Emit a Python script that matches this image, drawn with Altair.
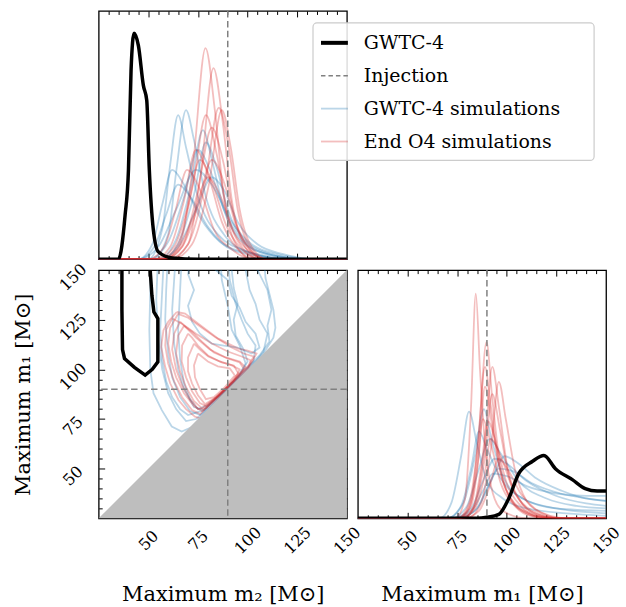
import altair as alt
import pandas as pd

LO, HI, INJ = 25, 150, 90
W = H = 249
FONT = "DejaVu Serif"
BLUE, RED = "#1f77b4", "#d62728"

label_ticks = [50, 75, 100, 125, 150]
major_ticks = [50, 75, 100, 125]
minor_ticks = [30, 35, 40, 45, 55, 60, 65, 70, 80, 85, 90, 95, 105, 110, 115,
               120, 130, 135, 140, 145]
diag = [25, 150]

legend_labels = ["GWTC-4", "Injection", "GWTC-4 simulations", "End O4 simulations"]
title_m1 = "Maximum m\u2081 [M\u2299]"
title_m2 = "Maximum m\u2082 [M\u2299]"

# ---------------- 1D: maximum m2 ----------------
m2_black_x = [25, 35, 38.3, 40, 41.3, 42.8, 45, 47.5, 49.2, 50.5, 52.5, 55, 62, 75, 150]
m2_black_h = [0, 0, 0.177, 0.36, 0.76, 0.91, 0.86, 0.70, 0.64, 0.36, 0.12, 0.03, 0.005, 0, 0]

m2_blue_x = [
    [25, 50, 57, 61, 65, 69, 75, 85, 100, 120, 150],
    [25, 52, 60, 64, 69, 73, 79, 88, 100, 120, 150],
    [25, 45, 52, 57, 62, 68, 76, 86, 100, 125, 150],
    [25, 55, 64, 71, 77.5, 82, 88, 96, 110, 130, 150],
    [25, 57, 66, 73, 79, 84, 90, 98, 112, 130, 150],
    [25, 50, 60, 68, 75, 81, 88, 97, 110, 130, 150],
    [25, 45, 55, 64, 74, 82, 92, 102, 115, 135, 150],
    [25, 55, 65, 74, 82, 88, 95, 105, 118, 135, 150],
    [25, 45, 53, 59, 65, 72, 80, 90, 105, 125, 150],
]
m2_blue_h = [
    [0, 0, 0.12, 0.38, 0.58, 0.45, 0.25, 0.10, 0.03, 0, 0],
    [0, 0, 0.10, 0.35, 0.60, 0.48, 0.25, 0.10, 0.03, 0, 0],
    [0, 0, 0.06, 0.22, 0.36, 0.30, 0.17, 0.07, 0.02, 0, 0],
    [0, 0, 0.08, 0.28, 0.52, 0.40, 0.20, 0.08, 0.02, 0, 0],
    [0, 0, 0.08, 0.26, 0.47, 0.38, 0.20, 0.08, 0.02, 0, 0],
    [0, 0, 0.07, 0.25, 0.44, 0.36, 0.20, 0.08, 0.02, 0, 0],
    [0, 0, 0.05, 0.20, 0.36, 0.30, 0.15, 0.06, 0.02, 0, 0],
    [0, 0, 0.05, 0.20, 0.33, 0.28, 0.15, 0.06, 0.02, 0, 0],
    [0, 0, 0.05, 0.18, 0.30, 0.24, 0.13, 0.05, 0.02, 0, 0],
]
m2_red_x = [
    [25, 58, 66, 72.5, 78.8, 83.5, 88, 94, 102, 150],
    [25, 61, 70, 76.5, 82.8, 87.5, 92, 98, 106, 150],
    [25, 60, 70, 78.5, 85.5, 90.5, 95, 101, 109, 150],
    [25, 56, 65, 72.5, 79, 84.5, 90, 97, 106, 150],
    [25, 62, 72, 80.5, 87, 91.5, 96, 102, 110, 150],
    [25, 58, 67, 74.5, 82, 87.5, 93, 100, 108, 150],
    [25, 53, 61, 67.5, 74, 80.5, 87, 95, 104, 150],
    [25, 54, 63, 69.5, 76, 82.5, 89, 97, 106, 150],
    [25, 58, 67, 74.5, 82, 88.5, 94, 101, 109, 150],
    [25, 50, 58, 63.5, 69.5, 76.5, 83, 92, 102, 150],
    [25, 56, 65, 72.5, 80, 86.5, 93, 101, 110, 150],
]
m2_red_h = [
    [0, 0, 0.06, 0.38, 0.85, 0.60, 0.25, 0.06, 0, 0],
    [0, 0, 0.06, 0.35, 0.77, 0.55, 0.24, 0.06, 0, 0],
    [0, 0, 0.06, 0.30, 0.61, 0.45, 0.20, 0.05, 0, 0],
    [0, 0, 0.06, 0.30, 0.58, 0.42, 0.18, 0.05, 0, 0],
    [0, 0, 0.06, 0.30, 0.60, 0.45, 0.20, 0.05, 0, 0],
    [0, 0, 0.05, 0.26, 0.53, 0.40, 0.18, 0.05, 0, 0],
    [0, 0, 0.05, 0.22, 0.44, 0.33, 0.15, 0.04, 0, 0],
    [0, 0, 0.05, 0.20, 0.40, 0.30, 0.14, 0.04, 0, 0],
    [0, 0, 0.05, 0.20, 0.40, 0.30, 0.14, 0.04, 0, 0],
    [0, 0, 0.05, 0.19, 0.36, 0.27, 0.12, 0.04, 0, 0],
    [0, 0, 0.04, 0.17, 0.33, 0.25, 0.11, 0.03, 0, 0],
]

# ---------------- 1D: maximum m1 ----------------
m1_black_x = [25, 85, 90, 96, 101, 106, 113, 118.7, 124.5, 133, 139.5, 145.5, 150]
m1_black_h = [0, 0, 0.004, 0.016, 0.08, 0.18, 0.23, 0.253, 0.20, 0.156, 0.12, 0.11, 0.11]

m1_blue_x = [
    [25, 66, 72, 77, 81, 85, 90, 98, 110, 130, 150],
    [25, 70, 78, 84, 88.5, 92, 98, 108, 125, 150],
    [25, 72, 82, 88, 94, 100, 110, 125, 140, 150],
    [25, 75, 85, 92, 99, 106, 115, 128, 140, 150],
    [25, 72, 80, 86, 91.5, 97, 106, 120, 135, 150],
    [25, 74, 84, 90, 96, 103, 113, 127, 140, 150],
    [25, 72, 82, 88, 93, 100, 110, 125, 140, 150],
    [25, 70, 77, 82, 86, 90, 97, 108, 125, 150],
]
m1_blue_h = [
    [0, 0, 0.06, 0.25, 0.43, 0.30, 0.15, 0.08, 0.04, 0.02, 0.01],
    [0, 0, 0.06, 0.25, 0.44, 0.33, 0.17, 0.08, 0.04, 0.02],
    [0, 0, 0.04, 0.15, 0.24, 0.22, 0.15, 0.09, 0.06, 0.05],
    [0, 0, 0.04, 0.15, 0.25, 0.22, 0.16, 0.11, 0.08, 0.07],
    [0, 0, 0.05, 0.20, 0.32, 0.26, 0.15, 0.08, 0.05, 0.04],
    [0, 0, 0.03, 0.12, 0.20, 0.19, 0.14, 0.10, 0.08, 0.07],
    [0, 0, 0.03, 0.11, 0.18, 0.17, 0.13, 0.10, 0.09, 0.09],
    [0, 0, 0.05, 0.20, 0.35, 0.28, 0.16, 0.08, 0.04, 0.03],
]
m1_red_x = [
    [25, 74, 79, 82, 84.4, 86.5, 89, 93, 98, 110, 150],
    [25, 76, 82, 86, 89.8, 92.5, 96, 101, 108, 120, 150],
    [25, 75, 81, 85.5, 89, 92, 96, 102, 110, 122, 150],
    [25, 78, 84, 89, 92.7, 96, 100, 106, 114, 125, 150],
    [25, 80, 87, 92, 96, 99.5, 104, 110, 118, 128, 150],
    [25, 76, 82, 86, 89, 92.5, 97, 104, 112, 124, 150],
    [25, 78, 84, 89, 92.7, 96.5, 101, 108, 116, 126, 150],
    [25, 76, 83, 87, 90.5, 95, 100, 107, 115, 126, 150],
    [25, 77, 84, 88.5, 92, 97, 103, 110, 118, 128, 150],
    [25, 78, 86, 91, 96, 101, 107, 114, 122, 130, 150],
    [25, 75, 81, 85, 88, 92, 97, 104, 112, 124, 150],
]
m1_red_h = [
    [0, 0, 0.08, 0.45, 0.905, 0.60, 0.30, 0.10, 0.03, 0, 0],
    [0, 0, 0.07, 0.35, 0.71, 0.50, 0.25, 0.09, 0.03, 0, 0],
    [0, 0, 0.06, 0.30, 0.61, 0.45, 0.22, 0.08, 0.02, 0, 0],
    [0, 0, 0.06, 0.30, 0.61, 0.45, 0.22, 0.08, 0.02, 0, 0],
    [0, 0, 0.06, 0.28, 0.55, 0.40, 0.20, 0.07, 0.02, 0, 0],
    [0, 0, 0.05, 0.26, 0.53, 0.38, 0.18, 0.06, 0.02, 0, 0],
    [0, 0, 0.05, 0.25, 0.50, 0.36, 0.17, 0.06, 0.02, 0, 0],
    [0, 0, 0.04, 0.20, 0.39, 0.29, 0.14, 0.05, 0.01, 0, 0],
    [0, 0, 0.04, 0.16, 0.32, 0.25, 0.12, 0.04, 0.01, 0, 0],
    [0, 0, 0.03, 0.12, 0.24, 0.19, 0.10, 0.04, 0.01, 0, 0],
    [0, 0, 0.04, 0.20, 0.40, 0.30, 0.14, 0.05, 0.01, 0, 0],
]

# ---------------- 2D contours (m2, m1) ----------------
c_black = [(36.7, 165), (36.7, 130), (37, 110), (38, 105.5), (43, 101), (48.4, 97.1),
           (52, 100), (54.8, 103.8), (54.8, 115), (54.8, 125.6), (52.8, 128.9),
           (51.8, 137.3), (51, 149), (51, 165)]

c_blue = [
    [(51, 160), (51, 140), (50.5, 120), (51, 100), (52.6, 88), (56.8, 79.5), (61.8, 71.2),
     (66.8, 68.7), (72, 71), (80, 79.5), (90, 89.5), (100, 99.5), (108, 108), (113, 116),
     (114, 121), (113, 130), (111, 138), (109, 146), (108, 160)],
    [(55, 160), (54, 135), (55, 115), (57, 100), (60, 88), (64, 80), (69, 74), (74, 75),
     (82, 81.5), (92, 91.5), (102, 101.5), (108, 109), (110, 118), (106, 125), (104, 133),
     (101, 140), (99, 150), (98, 160)],
    [(60, 160), (59, 140), (58.5, 125), (60, 108), (62, 96), (66, 86), (71, 79), (76, 77),
     (85, 85), (95, 95), (103, 104), (104, 112), (100, 118), (97, 125), (94, 133),
     (91, 145), (90, 160)],
    [(64, 160), (63, 145), (62, 130), (63, 113), (65, 100), (68, 90), (73, 81), (78, 79.5),
     (86, 87), (95, 96), (99, 103), (96, 112), (92, 120), (90, 132), (87, 145), (86, 160)],
    [(72, 160), (70, 148), (73, 140), (70, 132), (72, 124), (76, 118), (82, 113), (88, 112),
     (95, 111), (102, 108), (106, 111), (104, 118), (99, 124), (96, 131), (92, 137),
     (90, 145), (84, 150), (82, 160)],
    [(67, 160), (66, 140), (65, 120), (66, 105), (68, 93), (71, 85), (75, 80), (80, 82),
     (88, 89), (96, 97), (100, 104), (98, 110), (94, 117), (93, 125), (95, 133), (93, 141),
     (92, 150), (92, 160)],
    [(58, 160), (57, 140), (56, 120), (57, 105), (59, 94), (62, 86), (66, 80), (70, 77),
     (78, 79.5), (88, 89), (98, 99), (106, 107), (111, 114), (110, 122), (112, 130),
     (110, 140), (105, 150), (104, 160)],
]

c_red = [
    [(64.3, 128.9), (60, 124), (57.6, 119.7), (56.5, 111.3), (58.5, 101.3), (61, 93),
     (65.2, 84.6), (69, 80), (73.5, 76.2), (76, 75.4), (80, 79), (86, 85.5), (95.3, 94.6),
     (100, 100), (103.6, 106.3), (104.5, 108), (100, 109.5), (95.3, 110.5), (85.2, 115.5),
     (75.2, 123), (68.5, 128.1), (64.3, 128.9)],
    [(62, 125.6), (59, 120), (58.5, 112), (60, 103), (63, 94), (67, 86), (72, 79.5),
     (76, 77.5), (83, 84), (92, 92.5), (100.3, 101), (101.5, 104.6), (97, 106.5), (90, 109),
     (82, 113), (74, 118), (67, 123), (62, 125.6)],
    [(66, 124), (63, 118), (62, 110), (64, 100), (67, 92), (71, 85), (75, 80), (79, 80.5),
     (87, 88), (95, 96), (99, 101), (96, 104), (89, 106), (81, 110), (74, 116), (69, 121),
     (66, 124)],
    [(70, 118), (67, 112), (66.8, 104), (69, 96), (72, 89), (76, 83), (79, 81.5), (86, 87.5),
     (93, 94), (96, 100), (92, 102), (86, 104), (80, 107), (75, 112), (72, 116), (70, 118)],
    [(73, 113), (70, 106), (70, 99), (72, 93), (75, 87), (78.5, 82.5), (84, 86), (90, 91.5),
     (95.3, 98), (93, 102), (87, 103.5), (80.2, 106.5), (76, 110), (73, 113)],
    [(75, 108), (73, 102), (73.5, 96), (76, 90), (79, 85), (83, 86), (88, 90.5), (93.6, 97),
     (91, 100.5), (85, 101.5), (80, 104), (75, 108)],
    [(65, 128), (61, 121), (60, 113), (61.5, 104), (64, 96), (68, 88), (73, 81.5), (77, 79),
     (84, 85.5), (93, 94.5), (101, 102.5), (103, 106.5), (98, 108), (92, 111), (84, 116),
     (77, 121), (70, 126), (65, 128)],
    [(68, 122), (65, 117), (64, 108), (66, 99), (69, 91), (73, 84), (77, 80.5), (85, 86.5),
     (94, 95.5), (98, 100.5), (96, 103.5), (90, 105.5), (83, 108.5), (77, 114), (72, 119),
     (68, 122)],
]


# ---------------- helpers ----------------
def curve_rows(xs_list, hs_list, group):
    rows = []
    for i, (xs, hs) in enumerate(zip(xs_list, hs_list)):
        for j, (x, h) in enumerate(zip(xs, hs)):
            rows.append({"cid": f"{group}{i}", "group": group, "x": x, "y": h, "o": j})
    return pd.DataFrame(rows)


def loop_rows(loops, group):
    rows = []
    for i, loop in enumerate(loops):
        for j, (a, b) in enumerate(loop):
            rows.append({"cid": f"{group}{i}", "group": group, "x": a, "y": b, "o": j})
    return pd.DataFrame(rows)


def mscale():
    return alt.Scale(domain=[LO, HI], nice=False, zero=False)


def dscale():
    return alt.Scale(domain=[0, 1], nice=False, zero=True)


cscale = alt.Scale(domain=["blue", "red"], range=[BLUE, RED])


def x_label_axis(title):
    return alt.Axis(values=label_ticks, title=title, ticks=False, domain=False,
                    grid=False, labelAngle=315, labelAlign="center", labelBaseline="middle",
                    labelPadding=22, labelFlush=False, labelOverlap=False,
                    titleY=76, titleBaseline="middle", orient="bottom")


def y_label_axis(title):
    return alt.Axis(values=label_ticks, title=title, ticks=False, domain=False,
                    grid=False, labelAngle=315, labelAlign="center", labelBaseline="middle",
                    labelPadding=26, labelOffset=7, labelFlush=False, labelOverlap=False,
                    titleX=-75, titleBaseline="middle", orient="left")


TICK_SETS = [(major_ticks, 6.0), (minor_ticks, 3.5)]


def tick_axis(orient, values, size):
    # axis pushed inside the frame by its own tick length: ticks point inward from the edge
    return alt.Axis(orient=orient, values=values, ticks=True, tickSize=size, tickWidth=1,
                    tickColor="black", offset=-size, labels=False, domain=False,
                    grid=False, title="")


def x_carrier(vals, xaxis, yscale_fn, y_anchor):
    df = pd.DataFrame({"x": vals, "y": [y_anchor] * len(vals)})
    return alt.Chart(df).mark_point(opacity=0).encode(
        x=alt.X("x:Q", scale=mscale(), axis=xaxis),
        y=alt.Y("y:Q", scale=yscale_fn(), axis=None))


def y_carrier(vals, yaxis, x_anchor):
    df = pd.DataFrame({"y": vals, "x": [x_anchor] * len(vals)})
    return alt.Chart(df).mark_point(opacity=0).encode(
        y=alt.Y("y:Q", scale=mscale(), axis=yaxis),
        x=alt.X("x:Q", scale=mscale(), axis=None))


def x_tick_carriers(yscale_fn, y_anchor):
    out = []
    for orient in ("bottom", "top"):
        for vals, size in TICK_SETS:
            out.append(x_carrier(vals, tick_axis(orient, vals, size), yscale_fn, y_anchor))
    return out


def y_tick_carriers():
    out = []
    for orient in ("left", "right"):
        for vals, size in TICK_SETS:
            out.append(y_carrier(vals, tick_axis(orient, vals, size), LO))
    return out


def kde_panel(black_x, black_h, blue_x, blue_h, red_x, red_h, x_title, with_legend):
    def mkX():
        return alt.X("x:Q", scale=mscale(), axis=None)

    def mkY():
        return alt.Y("y:Q", scale=dscale(), axis=None)

    sims = pd.concat([curve_rows(blue_x, blue_h, "blue"), curve_rows(red_x, red_h, "red")])
    sim_layer = alt.Chart(sims).mark_line(strokeWidth=1.8, opacity=0.3,
                                          interpolate="monotone", clip=True).encode(
        x=mkX(), y=mkY(), detail="cid:N", order="o:Q",
        color=alt.Color("group:N", scale=cscale, legend=None))
    black = pd.DataFrame({"x": black_x, "y": black_h})
    black_layer = alt.Chart(black).mark_line(color="black", strokeWidth=3.5,
                                             interpolate="monotone", clip=True).encode(
        x=mkX(), y=mkY())
    inj = alt.Chart(pd.DataFrame({"x": [INJ]})).mark_rule(
        color="#808080", strokeWidth=1.5, strokeDash=[6.5, 3.5]).encode(x=mkX())
    layers = [sim_layer, black_layer, inj] + x_tick_carriers(dscale, 0)
    if x_title is not None:
        layers.append(x_carrier(label_ticks, x_label_axis(x_title), dscale, 0))
    if with_legend:
        one = pd.DataFrame({"k": [0]})
        bx0, bx1, by0, by1 = 215, 497, 12, 150
        layers.append(alt.Chart(one).mark_rect(fill="white", fillOpacity=0.85,
                                               stroke="#cccccc", strokeWidth=1.2,
                                               cornerRadius=4).encode(
            x=alt.value(bx0), x2=alt.value(bx1), y=alt.value(by0), y2=alt.value(by1)))
        styles = [("black", 4, 1.0, None), ("#808080", 1.5, 1.0, [4.5, 3]),
                  (BLUE, 1.8, 0.3, None), (RED, 1.8, 0.3, None)]
        for i, (lab, (col, sw, op, dash)) in enumerate(zip(legend_labels, styles)):
            yy = 32 + i * 33
            kw = dict(color=col, strokeWidth=sw, opacity=op)
            if dash is not None:
                kw["strokeDash"] = dash
            layers.append(alt.Chart(one).mark_rule(**kw).encode(
                x=alt.value(223), x2=alt.value(250), y=alt.value(yy)))
            layers.append(alt.Chart(one).mark_text(text=lab, font=FONT, fontSize=19,
                                                   align="left", baseline="middle",
                                                   color="black").encode(
                x=alt.value(266), y=alt.value(yy)))
    return alt.layer(*layers).resolve_axis(x="independent").properties(width=W, height=H)


# ---------------- panels ----------------
top_left = kde_panel(m2_black_x, m2_black_h, m2_blue_x, m2_blue_h, m2_red_x, m2_red_h,
                     None, True)
bottom_right = kde_panel(m1_black_x, m1_black_h, m1_blue_x, m1_blue_h, m1_red_x, m1_red_h,
                         title_m1, False)


def mkX_bl():
    return alt.X("x:Q", scale=mscale(), axis=None)


def mkY_bl():
    return alt.Y("y:Q", scale=mscale(), axis=None)


conts = pd.concat([loop_rows(c_blue, "blue"), loop_rows(c_red, "red")])
cont_layer = alt.Chart(conts).mark_line(strokeWidth=1.8, opacity=0.3, clip=True).encode(
    x=mkX_bl(), y=mkY_bl(), detail="cid:N", order="o:Q",
    color=alt.Color("group:N", scale=cscale, legend=None))
bdf = pd.DataFrame({"x": [p[0] for p in c_black], "y": [p[1] for p in c_black],
                    "o": list(range(len(c_black)))})
black_c = alt.Chart(bdf).mark_line(color="black", strokeWidth=3.5, clip=True).encode(
    x=mkX_bl(), y=mkY_bl(), order="o:Q")
tri = alt.Chart(pd.DataFrame({"x": diag, "y": diag, "y0": [LO, LO]})).mark_area(
    color="#bebebe", opacity=1).encode(x=mkX_bl(), y=mkY_bl(), y2="y0:Q")
vinj = alt.Chart(pd.DataFrame({"x": [INJ]})).mark_rule(
    color="#808080", strokeWidth=1.5, strokeDash=[6.5, 3.5]).encode(x=mkX_bl())
hinj = alt.Chart(pd.DataFrame({"y": [INJ]})).mark_rule(
    color="#808080", strokeWidth=1.5, strokeDash=[6.5, 3.5]).encode(y=mkY_bl())
x_lab = x_carrier(label_ticks, x_label_axis(title_m2), mscale, LO)
y_lab = y_carrier(label_ticks, y_label_axis(title_m1), LO)
bottom_left = alt.layer(
    cont_layer, black_c, tri, vinj, hinj, x_lab, y_lab,
    *x_tick_carriers(mscale, LO), *y_tick_carriers()
).resolve_axis(x="independent", y="independent").properties(width=W, height=H)

empty = alt.Chart(pd.DataFrame({"x": [0]})).mark_point(opacity=0).encode(
    x=alt.X("x:Q", axis=None), y=alt.Y("x:Q", axis=None)).properties(
    width=W, height=H, view=alt.ViewBackground(stroke="transparent"))

chart = alt.concat(top_left, empty, bottom_left, bottom_right, columns=2, spacing=11,
                   bounds="flush").properties(
    padding={"left": 12, "top": 8, "right": 2, "bottom": 2},
    background="white",
).configure_view(stroke="black", strokeWidth=1.3).configure_axis(
    labelFont=FONT, titleFont=FONT, labelFontSize=16, titleFontSize=21,
    labelColor="black", titleColor="black", titleFontWeight="normal")

chart.save("out.html", embed_options={"renderer": "svg", "actions": False})
